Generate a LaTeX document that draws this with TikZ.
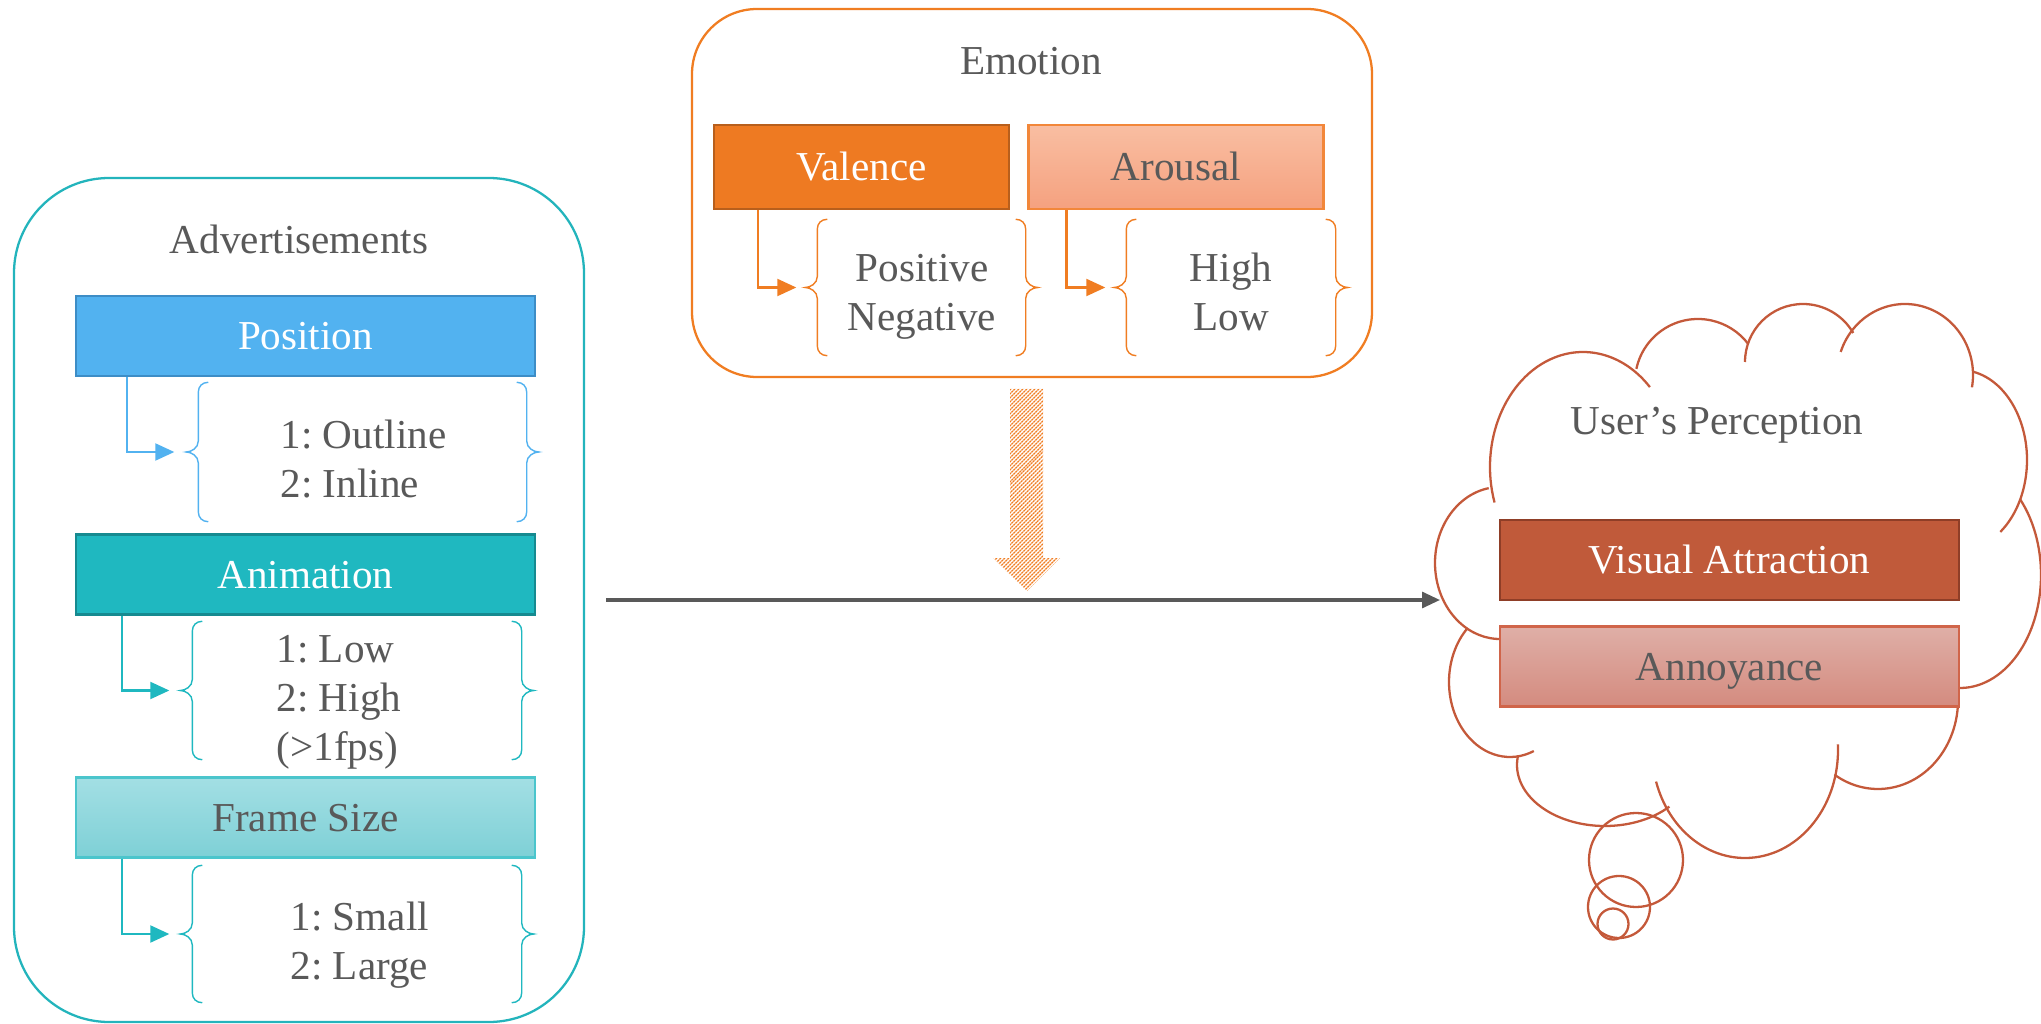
\documentclass[tikz,border=0pt]{standalone}
\usepackage{fontspec}
\setmainfont{Liberation Serif}
\usetikzlibrary{arrows.meta,calc,patterns.meta}
\definecolor{txtgray}{HTML}{595959}
\definecolor{advteal}{HTML}{23B4BC}
\definecolor{posblue}{HTML}{52B2F0}
\definecolor{posborder}{HTML}{3D8DC6}
\definecolor{animteal}{HTML}{1FB8C0}
\definecolor{animborder}{HTML}{168A90}
\definecolor{frametop}{HTML}{A3DFE4}
\definecolor{framebot}{HTML}{7ED0D6}
\definecolor{frameborder}{HTML}{4BC5CC}
\definecolor{emoorange}{HTML}{F07D22}
\definecolor{valfill}{HTML}{EE7A22}
\definecolor{valborder}{HTML}{B85F1C}
\definecolor{aroutop}{HTML}{F9BEA2}
\definecolor{aroubot}{HTML}{F5A17F}
\definecolor{arouborder}{HTML}{F2873A}
\definecolor{cloudred}{HTML}{C4593A}
\definecolor{vafill}{HTML}{C05A3A}
\definecolor{vaborder}{HTML}{8F3E27}
\definecolor{anntop}{HTML}{DFAFA7}
\definecolor{annbot}{HTML}{D48B7F}
\definecolor{annborder}{HTML}{D0654A}
\definecolor{arrgray}{HTML}{595959}

\newcommand{\curlies}[2]{%
  \draw[#2, line width=0.4pt]
    ($(#1.north west)+(10,0)$) .. controls ($(#1.north west)+(4,0)$) and ($(#1.north west)+(0,4)$) .. ($(#1.north west)+(0,10)$)
    -- ($(#1.west)+(0,-11)$) .. controls ($(#1.west)+(0,-4)$) and ($(#1.west)+(-7,0)$) .. ($(#1.west)+(-12,0)$)
    .. controls ($(#1.west)+(-7,0)$) and ($(#1.west)+(0,4)$) .. ($(#1.west)+(0,11)$)
    -- ($(#1.south west)+(0,-10)$) .. controls ($(#1.south west)+(0,-4)$) and ($(#1.south west)+(4,0)$) .. ($(#1.south west)+(10,0)$);
  \draw[#2, line width=0.4pt]
    ($(#1.north east)+(-10,0)$) .. controls ($(#1.north east)+(-4,0)$) and ($(#1.north east)+(0,4)$) .. ($(#1.north east)+(0,10)$)
    -- ($(#1.east)+(0,-11)$) .. controls ($(#1.east)+(0,-4)$) and ($(#1.east)+(7,0)$) .. ($(#1.east)+(12,0)$)
    .. controls ($(#1.east)+(7,0)$) and ($(#1.east)+(0,4)$) .. ($(#1.east)+(0,11)$)
    -- ($(#1.south east)+(0,-10)$) .. controls ($(#1.south east)+(0,-4)$) and ($(#1.south east)+(-4,0)$) .. ($(#1.south east)+(-10,0)$);
}
\newcommand{\cloudarc}[6]{%
  \draw[cloudline] ([shift={(#5:#3 and #4)}]#1,#2) arc[start angle=#5,end angle=#6,x radius=#3,y radius=#4];
}

\begin{document}
\begin{tikzpicture}[x=0.1mm,y=-0.1mm,
  every node/.style={font=\fontsize{11.7}{13.9}\selectfont\frenchspacing, text=txtgray},
  panel/.style={rectangle, line width=0.65pt, fill=white, inner sep=0},
  catbox/.style={rectangle, line width=0.6pt, inner sep=0, text height=2.8mm, text depth=0mm,
                 minimum width=45.9mm, minimum height=8mm},
  emobox/.style={catbox, minimum width=29.5mm, minimum height=8.4mm},
  bracebox/.style={rectangle, inner sep=0, draw=none},
  opttext/.style={align=left, inner sep=0},
  opttextc/.style={align=center, inner sep=0},
  conn/.style={line width=0.6pt, -{Triangle[length=1.9mm,width=1.7mm]}},
  mainarrow/.style={draw=arrgray, line width=0.9pt, -{Triangle[length=1.8mm,width=1.6mm]}},
  cloudline/.style={draw=cloudred, line width=0.65pt},
  title/.style={anchor=base, inner sep=0}
]
\useasboundingbox (0,0) rectangle (2041,1024);

% ---------------- Advertisements panel ----------------
\node[panel, draw=advteal, rounded corners=9.5mm, minimum width=57mm, minimum height=84.4mm] (adv) at (299,600) {};
\node[title] (advtitle) at (299,254) {Advertisements};

\node[catbox, fill=posblue, draw=posborder, text=white] (pos) at (305.5,336) {Position};
\node[bracebox, minimum width=32.7mm, minimum height=13.8mm] (posopt) at (362.5,452) {};
\curlies{posopt}{posblue}
\node[opttext, anchor=west] (posvals) at (280,459) {1: Outline\\2: Inline};
\draw[conn, draw=posblue] ($(pos.south west)+(52,0)$) |- ($(posopt.west)+(-24,0)$);

\node[catbox, fill=animteal, draw=animborder, text=white] (anim) at (305.5,574.5) {Animation};
\node[bracebox, minimum width=32.8mm, minimum height=13.7mm] (animopt) at (357,690.5) {};
\curlies{animopt}{animteal}
\node[opttext, anchor=west] (animvals) at (276,702) {1: Low\\2: High\\(>1fps)};
\draw[conn, draw=animteal] ($(anim.south west)+(47,0)$) |- ($(animopt.west)+(-23,0)$);

\node[catbox, top color=frametop, bottom color=framebot, draw=frameborder] (frame) at (305.5,817.5) {Frame Size};
\node[bracebox, minimum width=32.8mm, minimum height=13.6mm] (frameopt) at (357,934) {};
\curlies{frameopt}{animteal}
\node[opttext, anchor=west] (framevals) at (290,945) {1: Small\\2: Large};
\draw[conn, draw=animteal] ($(frame.south west)+(47,0)$) |- ($(frameopt.west)+(-23,0)$);

% ---------------- Emotion panel ----------------
\node[panel, draw=emoorange, rounded corners=6.5mm, minimum width=68mm, minimum height=36.8mm] (emo) at (1032,193) {};
\node[title] (emotitle) at (1031,75) {Emotion};

\node[emobox, fill=valfill, draw=valborder, text=white] (val) at (861.5,167) {Valence};
\node[emobox, top color=aroutop, bottom color=aroubot, draw=arouborder] (aro) at (1176,167) {Arousal};

\node[bracebox, minimum width=20.7mm, minimum height=13.5mm] (valopt) at (921.5,287.5) {};
\curlies{valopt}{emoorange}
\node[opttextc] (valvals) at (922,297) {Positive\\Negative};
\draw[conn, draw=emoorange] ($(val.south west)+(45,0)$) |- ($(valopt.west)+(-21,0)$);

\node[bracebox, minimum width=20.8mm, minimum height=13.5mm] (aroopt) at (1231,287.5) {};
\curlies{aroopt}{emoorange}
\node[opttextc] (arovals) at (1231,292) {High\\Low};
\draw[conn, draw=emoorange] ($(aro.south west)+(39,0)$) |- ($(aroopt.west)+(-21,0)$);

% striped block arrow from Emotion
\fill[pattern={Lines[angle=45,distance=0.9pt,line width=0.55pt]}, pattern color=emoorange]
  (1010,389) -- (1043,389) -- (1043,558) -- (1060,558) -- (1027,591) -- (993,558) -- (1010,558) -- cycle;

% ---------------- Cloud: User's Perception ----------------
\cloudarc{1583}{467}{93}{115}{162}{316}
\cloudarc{1698}{382}{63}{63}{192}{323}
\cloudarc{1803}{362}{58}{58}{180}{330}
\cloudarc{1905}{375}{68}{71}{199}{370}
\cloudarc{1960}{460}{67}{90}{281}{413}
\cloudarc{1960}{575}{81}{113}{318}{455}
\cloudarc{1878}{700}{80}{89}{-10}{123}
\cloudarc{1745}{750}{93}{108}{-3}{163}
\cloudarc{1605}{765}{88}{61}{43}{189}
\cloudarc{1510}{682}{61}{75}{226}{67}
\cloudarc{1500}{563}{65}{76}{260}{88}
\draw[cloudline] (1636,860) circle[radius=47];
\draw[cloudline] (1619,907) circle[radius=31];
\draw[cloudline] (1613,924) circle[radius=15.5];
\coordinate (cloudin) at (1440,600);

\node[title] (cloudtitle) at (1717,434) {User’s Perception};
\node[catbox, fill=vafill, draw=vaborder, text=white] (va) at (1729.5,560) {Visual Attraction};
\node[catbox, top color=anntop, bottom color=annbot, draw=annborder] (ann) at (1729.5,666.5) {Annoyance};

% main connector
\draw[mainarrow] ($(adv.east)+(21,0)$) -- (cloudin);
\end{tikzpicture}
\end{document}
